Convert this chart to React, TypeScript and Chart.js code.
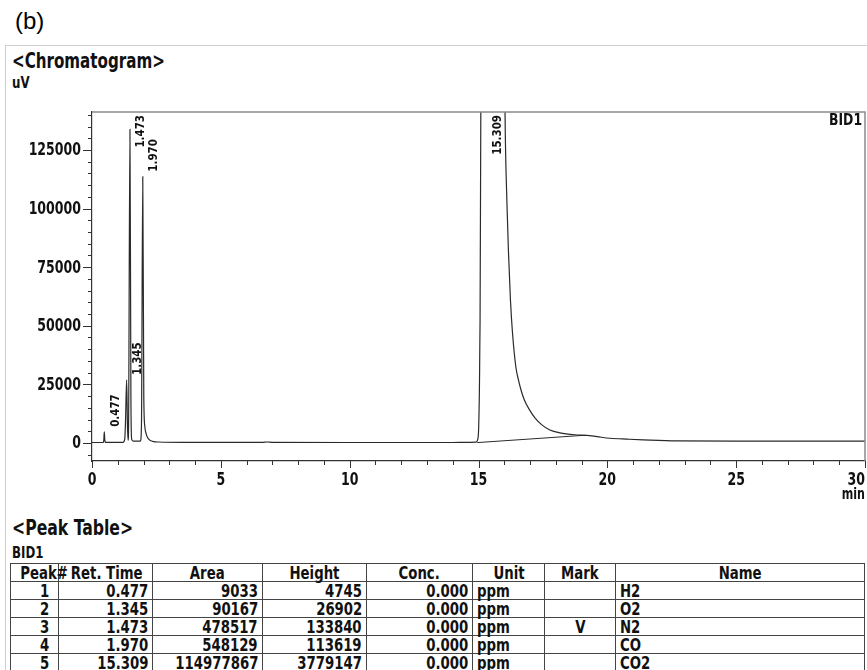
import React, { useEffect, useRef } from "react";
import { Chart, registerables } from "chart.js";

Chart.register(...registerables);

// ---- data ----
const peakNumbers = [1, 2, 3, 4, 5];
const retTimes = [0.477, 1.345, 1.473, 1.97, 15.309];
const retTimeLabels = ["0.477", "1.345", "1.473", "1.970", "15.309"];
const areas = [9033, 90167, 478517, 548129, 114977867];
const heights = [4745, 26902, 133840, 113619, 3779147];
const concs = ["0.000", "0.000", "0.000", "0.000", "0.000"];
const units = ["ppm", "ppm", "ppm", "ppm", "ppm"];
const marks = ["", "", "V", "", ""];
const names = ["H2", "O2", "N2", "CO", "CO2"];

const traceTime = [
  0.0, 0.44, 0.46, 0.477, 0.495, 0.52, 1.2, 1.27, 1.3, 1.345, 1.375, 1.4, 1.42,
  1.473, 1.51, 1.54, 1.6, 1.88, 1.92, 1.97, 2.01, 2.05, 2.1, 2.16, 2.24, 2.35,
  2.6, 3.5, 6.6, 6.8, 7.0, 10, 14.0, 14.5, 14.9, 14.97, 15.01, 15.05, 15.09,
  15.2, 15.309, 15.5, 15.8, 16.03, 16.1, 16.16, 16.24, 16.32, 16.45, 16.55,
  16.65, 16.78, 16.98, 17.19, 17.46, 17.77, 18.16, 18.74, 19.2, 19.6, 20.1,
  20.8, 21.4, 22.7, 25, 30,
];
const traceSignal = [
  200, 200, 1500, 4745, 1500, 250, 250, 1500, 9000, 26902, 8000, 1200, 8000,
  133840, 20000, 1500, 800, 800, 8000, 113619, 20000, 7000, 4000, 2200, 1200,
  700, 400, 250, 250, 400, 250, 200, 200, 250, 350, 1500, 8000, 40000, 141000,
  1500000, 3779147, 1800000, 500000, 141000, 103700, 82300, 61000, 46900,
  32400, 26900, 22600, 18300, 14100, 10700, 7700, 5500, 4300, 3500, 3250, 2700,
  2000, 1600, 1300, 850, 800, 800,
];
const baselineTime = [14.95, 19.15];
const baselineSignal = [150, 3300];

const xTickLabels = [0, 5, 10, 15, 20, 25, 30];
const yTickLabels = [0, 25000, 50000, 75000, 100000, 125000];

const FONT = '"DejaVu Sans Condensed", "DejaVu Sans", sans-serif';
const INK = "#111";
const SQ = 0.82;

function squeezeText(ctx: any, text: string, x: number, y: number, align: string, sx: number) {
  ctx.save();
  ctx.translate(x, y);
  ctx.scale(sx, 1);
  ctx.textAlign = align;
  ctx.fillText(text, 0, 0);
  ctx.restore();
}

const decorPlugin = {
  id: "chromDecor",
  afterDraw(chart: any) {
    const { ctx, chartArea, scales } = chart;
    const xs = scales.x;
    const ys = scales.y;
    const { left, right, top, bottom } = chartArea;
    ctx.save();
    // top & right frame
    ctx.strokeStyle = "#8a8a8a";
    ctx.lineWidth = 1.5;
    ctx.beginPath();
    ctx.moveTo(left, top);
    ctx.lineTo(right, top);
    ctx.lineTo(right, bottom);
    ctx.stroke();

    // y tick marks
    ctx.strokeStyle = "#333";
    ctx.lineWidth = 1;
    ctx.beginPath();
    for (let v = -5000; v <= 140000; v += 5000) {
      const y = Math.round(ys.getPixelForValue(v)) + 0.5;
      const len = v % 25000 === 0 ? 9 : 4;
      ctx.moveTo(left - len, y);
      ctx.lineTo(left, y);
    }
    // x tick marks
    for (let t = 0; t <= 30; t += 1) {
      const x = Math.round(xs.getPixelForValue(t)) + 0.5;
      const len = t % 5 === 0 ? 7 : 4;
      ctx.moveTo(x, bottom);
      ctx.lineTo(x, bottom + len);
    }
    ctx.stroke();

    ctx.fillStyle = INK;
    // y labels
    ctx.font = `bold 17px ${FONT}`;
    ctx.textBaseline = "middle";
    yTickLabels.forEach((v) => {
      squeezeText(ctx, String(v), left - 11, ys.getPixelForValue(v) + 1, "right", SQ);
    });

    // x labels
    ctx.textBaseline = "top";
    xTickLabels.forEach((t, i) => {
      const x = xs.getPixelForValue(t);
      squeezeText(ctx, String(t), x, bottom + 11, i === xTickLabels.length - 1 ? "right" : "center", SQ);
    });
    ctx.font = `bold 15px ${FONT}`;
    squeezeText(ctx, "min", right, bottom + 27, "right", SQ);

    // channel label
    ctx.font = `bold 16px ${FONT}`;
    squeezeText(ctx, "BID1", right - 3, top + 1, "right", 0.86);

    // peak labels
    ctx.font = `bold 13px ${FONT}`;
    ctx.textAlign = "left";
    ctx.textBaseline = "middle";
    const psx = 0.88;
    retTimes.forEach((t, i) => {
      const label = retTimeLabels[i];
      const w = ctx.measureText(label).width * psx;
      const x = xs.getPixelForValue(t) + 11;
      let yb = ys.getPixelForValue(heights[i]) - 5;
      if (yb - w < top + 3) yb = top + 3 + w;
      ctx.save();
      ctx.translate(x, yb);
      ctx.rotate(-Math.PI / 2);
      ctx.scale(psx, 1);
      ctx.fillText(label, 0, 0);
      ctx.restore();
    });
    ctx.restore();
  },
};

function ChromChart() {
  const ref = useRef<HTMLCanvasElement | null>(null);
  useEffect(() => {
    if (!ref.current) return;
    const trace = traceTime.map((t, i) => ({ x: t, y: traceSignal[i] }));
    const base = baselineTime.map((t, i) => ({ x: t, y: baselineSignal[i] }));
    const chart = new Chart(ref.current, {
      type: "line",
      data: {
        datasets: [
          {
            data: trace,
            borderColor: "#2a2a2a",
            borderWidth: 1.2,
            pointRadius: 0,
            cubicInterpolationMode: "monotone",
            fill: false,
          },
          {
            data: base,
            borderColor: "#2a2a2a",
            borderWidth: 1,
            pointRadius: 0,
            tension: 0,
            fill: false,
          },
        ],
      },
      options: {
        animation: false,
        responsive: false,
        maintainAspectRatio: false,
        events: [],
        layout: { padding: { left: 0, right: 2, top: 12, bottom: 0 } },
        plugins: { legend: { display: false }, tooltip: { enabled: false } },
        scales: {
          x: {
            type: "linear",
            min: 0,
            max: 30,
            grid: { display: false },
            border: { display: true, color: "#333", width: 1.2 },
            ticks: { display: false },
            afterBuildTicks: (s: any) => {
              s.ticks = xTickLabels.map((v) => ({ value: v }));
            },
            afterFit: (s: any) => {
              s.height = 49;
              s.paddingLeft = 0;
              s.paddingRight = 0;
            },
          },
          y: {
            type: "linear",
            min: -7700,
            max: 141200,
            grid: { display: false },
            border: { display: true, color: "#333", width: 1.2 },
            ticks: { display: false },
            afterBuildTicks: (s: any) => {
              s.ticks = yTickLabels.map((v) => ({ value: v }));
            },
            afterFit: (s: any) => {
              s.width = 92;
              s.paddingTop = 0;
              s.paddingBottom = 0;
            },
          },
        },
      },
      plugins: [decorPlugin],
    } as any);
    return () => chart.destroy();
  }, []);
  return (
    <canvas
      ref={ref}
      width={867}
      height={410}
      style={{ position: "absolute", left: 0, top: 100, width: 867, height: 410 }}
    />
  );
}

function Sq({ children, origin, sx = SQ }: { children: any; origin: string; sx?: number }) {
  return (
    <span
      style={{
        display: "inline-block",
        transform: `scaleX(${sx})`,
        transformOrigin: origin,
        whiteSpace: "nowrap",
      }}
    >
      {children}
    </span>
  );
}

const cellBase: React.CSSProperties = {
  border: "1px solid #444",
  padding: "0 4px",
  height: 17,
  lineHeight: "17px",
  whiteSpace: "nowrap",
  overflow: "visible",
};

export default function App() {
  const colWidths = [48, 94, 110, 104, 106, 72, 71, 249];
  const headers = ["Peak#", "Ret. Time", "Area", "Height", "Conc.", "Unit", "Mark", "Name"];
  const R = "right center";
  const L = "left center";
  const C = "center center";
  return (
    <div
      style={{
        position: "absolute",
        left: 0,
        top: 0,
        width: 867,
        height: 670,
        overflow: "hidden",
        background: "#fff",
        fontFamily: FONT,
        color: INK,
      }}
    >
      <div
        style={{
          position: "absolute",
          left: 15,
          top: 7,
          fontFamily: '"Liberation Sans", Arial, sans-serif',
          fontSize: 24,
          color: "#000",
        }}
      >
        (b)
      </div>
      <div
        style={{
          position: "absolute",
          left: 5,
          top: 45,
          width: 900,
          height: 700,
          borderLeft: "1px solid #cfcfcf",
          borderTop: "1px solid #cfcfcf",
        }}
      />
      <div style={{ position: "absolute", left: 12, top: 49, fontSize: 21, fontWeight: "bold" }}>
        <Sq origin={L} sx={0.8}>&lt;Chromatogram&gt;</Sq>
      </div>
      <div style={{ position: "absolute", left: 12, top: 73, fontSize: 16, fontWeight: "bold" }}>
        <Sq origin={L}>uV</Sq>
      </div>
      <ChromChart />
      <div style={{ position: "absolute", left: 12, top: 516, fontSize: 21, fontWeight: "bold" }}>
        <Sq origin={L} sx={0.83}>&lt;Peak Table&gt;</Sq>
      </div>
      <div style={{ position: "absolute", left: 12, top: 543, fontSize: 16, fontWeight: "bold" }}>
        <Sq origin={L}>BID1</Sq>
      </div>
      <table
        style={{
          position: "absolute",
          left: 10,
          top: 563,
          borderCollapse: "collapse",
          tableLayout: "fixed",
          width: 855,
          fontSize: 18,
          fontWeight: "bold",
          fontFamily: FONT,
        }}
      >
        <colgroup>
          {colWidths.map((w, i) => (
            <col key={i} style={{ width: w }} />
          ))}
        </colgroup>
        <thead>
          <tr>
            {headers.map((h) => (
              <th key={h} style={{ ...cellBase, textAlign: "center", fontWeight: "bold" }}>
                <Sq origin={C}>{h}</Sq>
              </th>
            ))}
          </tr>
        </thead>
        <tbody>
          {peakNumbers.map((p, i) => (
            <tr key={p}>
              <td style={{ ...cellBase, textAlign: "right", paddingRight: 9 }}>
                <Sq origin={R}>{p}</Sq>
              </td>
              <td style={{ ...cellBase, textAlign: "right" }}>
                <Sq origin={R}>{retTimeLabels[i]}</Sq>
              </td>
              <td style={{ ...cellBase, textAlign: "right" }}>
                <Sq origin={R}>{areas[i]}</Sq>
              </td>
              <td style={{ ...cellBase, textAlign: "right" }}>
                <Sq origin={R}>{heights[i]}</Sq>
              </td>
              <td style={{ ...cellBase, textAlign: "right" }}>
                <Sq origin={R}>{concs[i]}</Sq>
              </td>
              <td style={{ ...cellBase, textAlign: "left" }}>
                <Sq origin={L}>{units[i]}</Sq>
              </td>
              <td style={{ ...cellBase, textAlign: "center" }}>
                <Sq origin={C}>{marks[i]}</Sq>
              </td>
              <td style={{ ...cellBase, textAlign: "left" }}>
                <Sq origin={L}>{names[i]}</Sq>
              </td>
            </tr>
          ))}
        </tbody>
      </table>
    </div>
  );
}
